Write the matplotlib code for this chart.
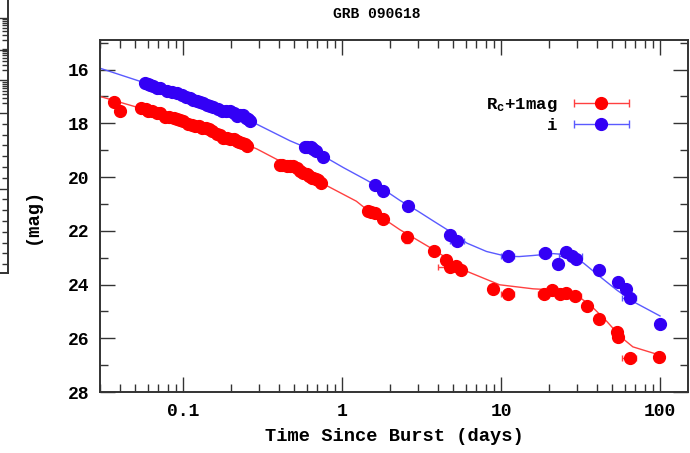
import numpy as np
import matplotlib
matplotlib.use('Agg')
import matplotlib.pyplot as plt
from matplotlib.container import ErrorbarContainer
from matplotlib.legend_handler import HandlerErrorbar

plt.rcParams['font.family'] = ['Liberation Mono', 'DejaVu Sans Mono']
plt.rcParams['font.weight'] = 'bold'
plt.rcParams['axes.labelweight'] = 'bold'
plt.rcParams['mathtext.fontset'] = 'custom'
plt.rcParams['mathtext.rm'] = 'Liberation Mono:bold'
plt.rcParams['mathtext.it'] = 'Liberation Mono:bold'

# ---------------- photometry (days, mag) ----------------
red_t = [0.037, 0.040, 0.0547, 0.058, 0.0605, 0.064, 0.0684, 0.072, 0.077, 0.082,
         0.087, 0.091, 0.0957, 0.100, 0.108, 0.113, 0.119, 0.125, 0.131, 0.140,
         0.145, 0.151, 0.163, 0.170, 0.179, 0.188, 0.198, 0.208, 0.218, 0.226,
         0.234, 0.245, 0.252,
         0.407, 0.42, 0.448, 0.47, 0.494, 0.52, 0.545, 0.57, 0.60, 0.62, 0.643,
         0.66, 0.69, 0.71, 0.74,
         1.46, 1.52, 1.61, 1.82, 2.55, 3.76, 4.5, 4.78, 5.2, 5.6,
         8.87, 11.0, 18.6, 21.0, 23.5, 25.8, 29.0, 34.9, 41.6, 53.3, 54.7, 64.3, 99]
red_mag = [17.2, 17.53, 17.43, 17.45, 17.53, 17.55, 17.63, 17.62, 17.76, 17.75,
           17.81, 17.83, 17.88, 17.9, 18.03, 18.05, 18.09, 18.1, 18.16, 18.16,
           18.22, 18.28, 18.4, 18.45, 18.53, 18.55, 18.59, 18.6, 18.65, 18.68,
           18.72, 18.78, 18.84,
           19.55, 19.57, 19.59, 19.6, 19.59, 19.65, 19.78, 19.85, 19.9, 19.95, 20.03,
           20.05, 20.09, 20.12, 20.21,
           21.27, 21.3, 21.33, 21.55, 22.24, 22.77, 23.08, 23.36, 23.3, 23.45,
           24.17, 24.35, 24.35, 24.2, 24.35, 24.32, 24.41, 24.79, 25.3, 25.76, 25.97, 26.75, 26.69]
red_yerr = [0.05] * len(red_t)
for t, e in [(0.040, 0.15), (0.74, 0.15), (2.55, 0.2)]:
    red_yerr[red_t.index(t)] = e
red_xerr = [0.0] * len(red_t)
for t, e in [(4.78, 0.75), (11.0, 1.05), (18.6, 1.45), (29.0, 2.65), (64.3, 6.8)]:
    red_xerr[red_t.index(t)] = e

blue_t = [0.0577, 0.060, 0.0620, 0.065, 0.0684, 0.072, 0.079, 0.085, 0.0912, 0.098,
          0.105, 0.11, 0.116, 0.122, 0.128, 0.134, 0.141, 0.148, 0.155, 0.165,
          0.175, 0.185, 0.198, 0.208, 0.218, 0.228, 0.239, 0.25, 0.255, 0.264,
          0.585, 0.60, 0.634, 0.66, 0.69, 0.76,
          1.61, 1.82, 2.61, 4.78, 5.3, 11.1, 19.0, 22.9, 25.8, 27.8, 29.5,
          41.6, 54.7, 61.3, 64.3, 100]
blue_mag = [16.5, 16.53, 16.57, 16.6, 16.68, 16.7, 16.78, 16.83, 16.88, 16.95,
            17.03, 17.07, 17.12, 17.17, 17.22, 17.26, 17.31, 17.36, 17.41, 17.47,
            17.53, 17.55, 17.53, 17.6, 17.72, 17.7, 17.69, 17.8, 17.85, 17.91,
            18.88, 18.87, 18.9, 18.95, 19.03, 19.24,
            20.3, 20.52, 21.06, 22.14, 22.39, 22.95, 22.83, 23.23, 22.8, 22.93, 23.05,
            23.45, 23.89, 24.17, 24.51, 25.48]
blue_yerr = [0.04] * len(blue_t)
blue_xerr = [0.0] * len(blue_t)
for t, e in [(5.3, 0.55), (11.1, 1.05), (19.0, 1.75), (27.8, 4.7), (64.3, 6.5)]:
    blue_xerr[blue_t.index(t)] = e

# ---------------- model light curves ----------------
red_curve_t = [0.030, 0.0547, 0.1, 0.15, 0.2, 0.29, 0.47, 0.76, 1.23, 1.43, 2.0, 2.31,
               3.76, 6.1, 9.8, 15.9, 21.3, 28.5, 36.4, 46.4, 56.4, 67.5, 100]
red_curve_mag = [17.0, 17.45, 17.92, 18.27, 18.57, 18.95, 19.6, 20.25, 20.9, 21.21, 21.71, 21.96,
                 22.7, 23.51, 24.01, 24.16, 24.2, 24.32, 24.76, 25.38, 25.94, 26.32, 26.63]
blue_curve_t = [0.030, 0.0577, 0.1, 0.15, 0.2, 0.29, 0.47, 0.68, 1.02, 1.43, 2.0, 2.31,
                3.0, 3.76, 5.0, 6.1, 8.1, 10.8, 13.0, 15.9, 21.3, 25.8, 33.0, 41.8,
                53.3, 67.5, 100]
blue_curve_mag = [15.95, 16.5, 16.97, 17.35, 17.63, 18.03, 18.65, 19.05, 19.65, 20.12, 20.62, 20.87,
                  21.27, 21.64, 22.1, 22.46, 22.77, 22.95, 22.96, 22.92, 22.85, 22.89, 23.2, 23.7,
                  24.2, 24.63, 25.17]

RED, RED_LINE = '#ff0000', '#ff4040'
BLUE, BLUE_LINE = '#3300f5', '#5a5aff'
AXC = '#333333'

fig = plt.figure(figsize=(6.9, 4.53), dpi=100)
ax = fig.add_axes([100 / 690, 61 / 453, 588 / 690, 352 / 453])

ax.plot(red_curve_t, red_curve_mag, color=RED_LINE, lw=1.0, zorder=2)
ax.plot(blue_curve_t, blue_curve_mag, color=BLUE_LINE, lw=1.0, zorder=2)

ax.errorbar(red_t, red_mag, yerr=red_yerr, xerr=red_xerr, fmt='o', ms=8.5,
            color=RED, ecolor=RED_LINE, elinewidth=1.0, capsize=2.5, zorder=3)
ax.errorbar(blue_t, blue_mag, yerr=blue_yerr, xerr=blue_xerr, fmt='o', ms=8.5,
            color=BLUE, ecolor=BLUE_LINE, elinewidth=1.0, capsize=2.5, zorder=3)

# legend proxies: horizontal bars only
h_r = ax.errorbar([np.nan], [np.nan], xerr=[1], fmt='o', ms=8.5, color=RED,
                  ecolor=RED_LINE, elinewidth=1.0, capsize=3)
h_b = ax.errorbar([np.nan], [np.nan], xerr=[1], fmt='o', ms=8.5, color=BLUE,
                  ecolor=BLUE_LINE, elinewidth=1.0, capsize=3)
leg = ax.legend([h_r, h_b], [r'R$_{\rm c}$+1mag', 'i'], loc='upper right',
                bbox_to_anchor=(630 / 690, 1 - 96 / 453), bbox_transform=fig.transFigure,
                frameon=False, markerfirst=False, handlelength=3.3, handletextpad=0.9,
                labelspacing=0.2, borderpad=0, borderaxespad=0, fontsize=12.5,
                handler_map={ErrorbarContainer: HandlerErrorbar(xerr_size=1.6)})
for txt in leg.get_texts():
    txt.set_ha('right')

ax.set_xscale('log')
ax.set_xlim(0.030, 150)
ax.set_ylim(28, 14.9)
ax.set_xticks([0.1, 1, 10, 100])
ax.set_xticklabels(['0.1', '1', '10', '100'])
ax.set_yticks([16, 18, 20, 22, 24, 26, 28])
ax.set_yticks(np.arange(15, 28, 2), minor=True)
ax.tick_params(which='both', direction='in', top=True, right=True, color=AXC,
               labelsize=13, width=1.0, pad=8)
ax.tick_params(which='major', length=11)
ax.tick_params(which='minor', length=6)
for s in ax.spines.values():
    s.set_color(AXC)
    s.set_linewidth(1.4)

ax.set_xlabel('Time Since Burst (days)', fontsize=13.5, labelpad=6)
ax.set_ylabel('(mag)', fontsize=13.5, labelpad=19)
fig.text(377 / 690, 1 - 14 / 453, 'GRB 090618', ha='center', va='center',
         fontsize=10.5, fontweight='bold')

# edge of the neighbouring panel
ax2 = fig.add_axes([-0.05, 1 - 273 / 453, 0.05 + 7.5 / 690, 273 / 453])
ax2.set_xlim(0, 1)
ax2.set_ylim(273, 0)
for side in ('left', 'top'):
    ax2.spines[side].set_visible(False)
for side in ('right', 'bottom'):
    ax2.spines[side].set_color(AXC)
    ax2.spines[side].set_linewidth(1.4)
decades = [18, 50, 80, 113]
minor = []
for y0 in decades[1:]:
    minor += [y0 - 32 * np.log10(m) for m in range(2, 10)]
minor += [113 + 10.8 * k for k in range(1, 15) if k != 7]
ax2.set_yticks(decades + [113 + 10.8 * 7])
ax2.set_yticks(minor, minor=True)
ax2.set_xticks([])
ax2.yaxis.tick_right()
ax2.tick_params(which='both', direction='in', labelright=False, color=AXC, width=1.0)
ax2.tick_params(which='major', length=8)
ax2.tick_params(which='minor', length=4)

fig.savefig('out.png', dpi=100)
